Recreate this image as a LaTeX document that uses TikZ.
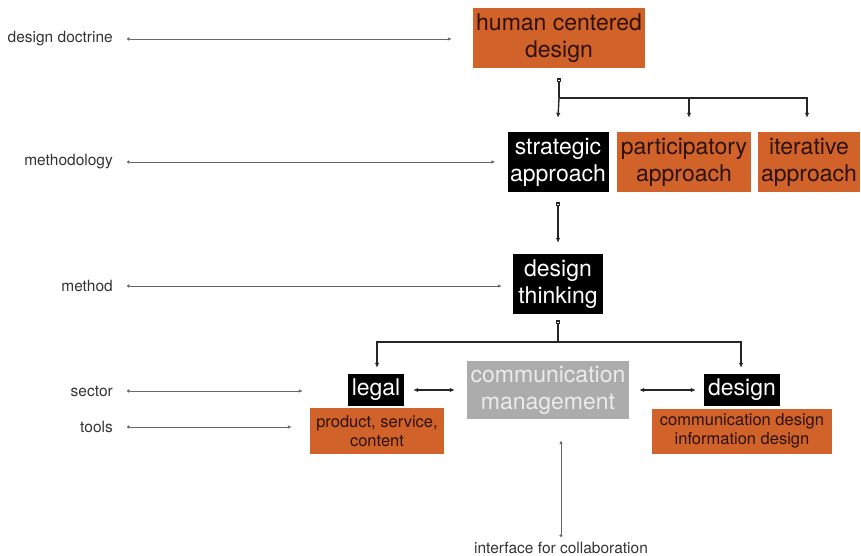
\documentclass[tikz,border=0pt]{standalone}
\usepackage{fontspec}
\setmainfont{TeX Gyre Heros}
\usetikzlibrary{arrows.meta}
\definecolor{hcdorange}{RGB}{208,98,42}
\definecolor{cmgray}{RGB}{172,172,172}
\definecolor{ortext}{RGB}{45,18,8}
\tikzset{
    boxo/.style = {rectangle, inner sep=0pt, align=center, fill=hcdorange, text=ortext, font=\fontsize{23}{27}\selectfont},
    boxb/.style = {rectangle, inner sep=0pt, align=center, fill=black, text=white, font=\fontsize{23}{27}\selectfont},
    boxg/.style = {rectangle, inner sep=0pt, align=center, fill=cmgray, text=white!92!black, font=\fontsize{23}{27}\selectfont},
    boxos/.style = {boxo, font=\fontsize{16.5}{19}\selectfont},
    lbl/.style = {anchor=east, inner sep=0pt, text=black!80, font=\fontsize{15.5}{18}\selectfont},
    lblarrow/.style = {{Circle[open,length=3pt,fill=white]}-{Latex[length=4pt,width=3.5pt]}, line width=0.9pt, black!60},
    branch/.style = {{Square[open,length=4pt,fill=white]}-, line width=1.4pt, black!85},
    branchtip/.style = {{Square[open,length=4pt,fill=white]}-{Latex[length=5pt,width=4.5pt]}, line width=1.4pt, black!85},
    tip/.style = {-{Latex[length=5pt,width=4.5pt]}, line width=1.4pt, black!85},
    both/.style = {{Latex[length=5pt,width=4.5pt]}-{Latex[length=5pt,width=4.5pt]}, line width=1.4pt, black!85}
}
\begin{document}
\begin{tikzpicture}[x=1pt,y=-1pt]
\path[use as bounding box] (0,0) rectangle (861,556);
%
\node[boxo, minimum width=172, minimum height=60] at (559,38) (hcd) {human centered\\design};
\node[boxb, minimum width=101, minimum height=60] at (558,162) (strat) {strategic\\approach};
\node[boxo, minimum width=134, minimum height=60] at (684,162) (part) {participatory\\approach};
\node[boxo, minimum width=102, minimum height=60] at (809,162) (iter) {iterative\\approach};
\node[boxb, minimum width=90, minimum height=60] at (558,284) (dt) {design\\thinking};
\node[boxb, minimum width=56, minimum height=32] at (376,390) (legal) {legal};
\node[boxos, minimum width=134, minimum height=46] at (377,431) (psc) {product, service,\\content};
\node[boxg, minimum width=162, minimum height=58] at (548,390) (cm) {communication\\management};
\node[boxb, minimum width=76, minimum height=32] at (742,390) (des) {design};
\node[boxos, minimum width=180, minimum height=45] at (742,431) (cdid) {communication design\\information design};
%
\node[lbl] at (113,39) (ldoc) {design doctrine};
\node[lbl] at (113,162) (lmeth) {methodology};
\node[lbl] at (113,286) (lmd) {method};
\node[lbl] at (113,391) (lsec) {sector};
\node[lbl] at (113,427) (ltool) {tools};
\node[inner sep=0pt, text=black!80, font=\fontsize{15.5}{18}\selectfont] at (561,548) (lint) {interface for collaboration};
%
\draw[lblarrow] ([xshift=14pt]ldoc.east) -- ([xshift=-21pt]ldoc -| hcd.west);
\draw[lblarrow] ([xshift=14pt]lmeth.east) -- ([xshift=-12pt]lmeth -| strat.west);
\draw[lblarrow] ([xshift=14pt]lmd.east) -- ([xshift=-11pt]lmd -| dt.west);
\draw[lblarrow] ([xshift=14pt]lsec.east) -- ([xshift=-45pt]lsec -| legal.west);
\draw[lblarrow] ([xshift=14pt]ltool.east) -- ([xshift=-18pt]ltool -| psc.west);
\draw[lblarrow] ([yshift=5pt]lint.north) -- ([yshift=-21pt]lint |- cm.south);
%
\coordinate (hb) at (559,98);
\draw[branch] ([yshift=-10pt]hcd.south) -- (hb);
\draw[tip] (hb) -- ([yshift=14pt]strat.north);
\draw[tip] (hb) -| ([xshift=5pt,yshift=14pt]part.north);
\draw[tip] (hb) -| ([xshift=-2pt,yshift=14pt]iter.north);
\draw[branchtip] ([yshift=-10pt]strat.south) -- ([yshift=11pt]dt.north);
%
\coordinate (db) at (558,342);
\draw[branch] ([yshift=-6pt]dt.south) -- (db);
\draw[tip] (db) -| ([xshift=1pt,yshift=6pt]legal.north);
\draw[tip] (db) -| ([xshift=-1pt,yshift=6pt]des.north);
\draw[both] ([xshift=9pt]legal.east) -- ([xshift=-12pt]cm.west);
\draw[both] ([xshift=10pt]cm.east) -- ([xshift=-8pt]des.west);
\end{tikzpicture}
\end{document}
